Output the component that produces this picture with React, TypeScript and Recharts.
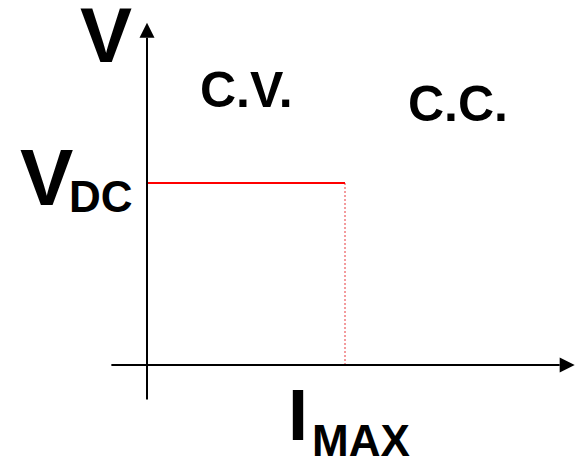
import { ComposedChart, Line, XAxis, YAxis, ReferenceLine } from 'recharts';

// Operating boundary of the supply, in units of I_MAX (x) and V_DC (y)
const cvBoundary = [
  { i: 0, v: 1 },
  { i: 1, v: 1 },
];
const ccBoundary = [
  { i: 1, v: 1 },
  { i: 1, v: 0 },
];

// Extent of the drawn axes (same units)
const currentAxisRange = [-0.18, 2.16];
const voltageAxisRange = [-0.19, 1.88];

const regionLabels = ['C.V.', 'C.C.'];
const axisSymbols = { voltage: 'V', current: 'I' };
const levelSymbols = { voltage: ['V', 'DC'], current: ['I', 'MAX'] };

const W = 575;
const H = 460;
const X_DOMAIN = [-147 / 198, (W - 147) / 198];
const Y_DOMAIN = [-(H - 365) / 182, 365 / 182];
const FONT = '"Liberation Sans", Arial, sans-serif';
const MARGIN = { top: 0, right: 0, bottom: 0, left: 0 };
const layer = { position: 'absolute' as const, left: 0, top: 0 };

function AxisArrow(props: any) {
  const { x1, y1, x2, y2 } = props;
  const len = Math.hypot(x2 - x1, y2 - y1) || 1;
  const ux = (x2 - x1) / len;
  const uy = (y2 - y1) / len;
  const head = 15;
  const half = 7.5;
  const bx = x2 - ux * head;
  const by = y2 - uy * head;
  const px = -uy;
  const py = ux;
  const pts = [
    `${x2},${y2}`,
    `${bx + px * half},${by + py * half}`,
    `${bx - px * half},${by - py * half}`,
  ].join(' ');
  return (
    <g>
      <line x1={x1} y1={y1} x2={bx} y2={by} stroke="#000" strokeWidth={2} />
      <polygon points={pts} fill="#000" />
    </g>
  );
}

function Scales() {
  return [
    <XAxis key="x" type="number" dataKey="i" domain={X_DOMAIN} allowDataOverflow hide />,
    <YAxis key="y" type="number" dataKey="v" domain={Y_DOMAIN} allowDataOverflow hide />,
  ];
}

export default function App() {
  return (
    <div style={{ ...layer, width: W, height: H, background: '#fff' }}>
      {/* boundary lines */}
      <div style={layer}>
        <ComposedChart width={W} height={H} margin={MARGIN}>
          {Scales()}
          <Line
            data={ccBoundary}
            dataKey="v"
            stroke="#e8383c"
            strokeWidth={1}
            strokeDasharray="2 2"
            dot={false}
            isAnimationActive={false}
          />
          <Line
            data={cvBoundary}
            dataKey="v"
            stroke="#ff0000"
            strokeWidth={2}
            dot={false}
            isAnimationActive={false}
          />
        </ComposedChart>
      </div>
      {/* axes drawn on top, same domains */}
      <div style={layer}>
        <ComposedChart width={W} height={H} margin={MARGIN} data={cvBoundary}>
          {Scales()}
          <ReferenceLine
            segment={[
              { x: currentAxisRange[0], y: 0 },
              { x: currentAxisRange[1], y: 0 },
            ]}
            ifOverflow="visible"
            shape={(p: any) => <AxisArrow {...p} />}
          />
          <ReferenceLine
            segment={[
              { x: 0, y: voltageAxisRange[0] },
              { x: 0, y: voltageAxisRange[1] },
            ]}
            ifOverflow="visible"
            shape={(p: any) => <AxisArrow {...p} />}
          />
        </ComposedChart>
      </div>
      <svg
        width={W}
        height={H}
        style={{ ...layer, pointerEvents: 'none' }}
        fontFamily={FONT}
        fontWeight="bold"
        fill="#000"
      >
        <text x={80} y={62} fontSize={78}>
          {axisSymbols.voltage}
        </text>
        <text x={200} y={107} fontSize={50}>
          {regionLabels[0]}
        </text>
        <text x={408} y={121} fontSize={50}>
          {regionLabels[1]}
        </text>
        <text x={20} y={205} fontSize={80}>
          {levelSymbols.voltage[0]}
        </text>
        <text x={69} y={212} fontSize={44}>
          {levelSymbols.voltage[1]}
        </text>
        <text x={288} y={440} fontSize={72}>
          {levelSymbols.current[0]}
        </text>
        <text x={312} y={456} fontSize={44}>
          {levelSymbols.current[1]}
        </text>
      </svg>
    </div>
  );
}
